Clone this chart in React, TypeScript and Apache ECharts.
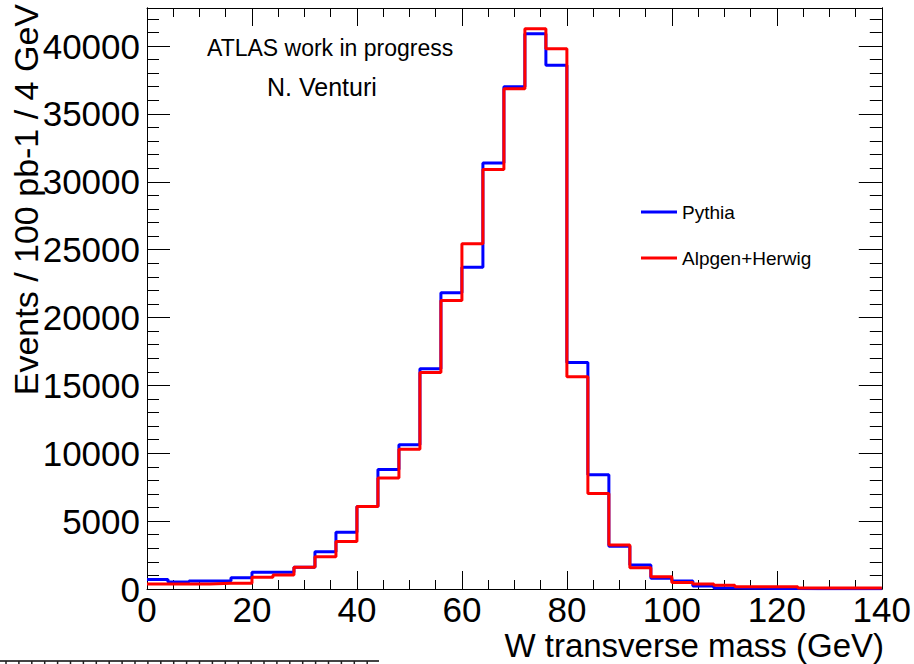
import React, { useEffect, useRef } from "react";
import * as echarts from "echarts";

// Histogram bin edges (GeV), 4 GeV bins from 0 to 140
const binEdges = [
  0, 4, 8, 12, 16, 20, 24, 28, 32, 36, 40, 44, 48, 52, 56, 60, 64, 68,
  72, 76, 80, 84, 88, 92, 96, 100, 104, 108, 112, 116, 120, 124, 128, 132, 136, 140,
];

// Events / 100 pb-1 / 4 GeV per bin
const pythia = [
  700, 520, 590, 590, 830, 1230, 1230, 1600, 2750, 4180, 6070, 8800, 10620, 16220,
  21830, 23700, 31390, 37000, 40900, 38590, 16690, 8410, 3150, 1770, 790, 590, 220,
  80, 60, 40, 30, 20, 20, 10, 10,
];
const alpgen = [
  370, 370, 370, 420, 420, 860, 1030, 1600, 2380, 3490, 6070, 8180, 10300, 15950,
  21260, 25440, 30900, 36850, 41270, 39800, 15630, 7030, 3250, 1560, 910, 470, 370,
  270, 170, 170, 170, 70, 70, 70, 70,
];

const seriesNames = ["Pythia", "Alpgen+Herwig"];
const seriesColors = ["#0000ff", "#ff0000"];

const xMin = 0;
const xMax = 140;
const xInterval = 20;
const yMin = 0;
const yMax = 42800;
const yMajor = 5000;
const yMinor = 1000;

const xTitle = "W transverse mass (GeV)";
const yTitle = "Events / 100 pb-1 / 4 GeV";
const notes = ["ATLAS work in progress", "N. Venturi"];

const FONT = "'Liberation Sans', Arial, Helvetica, sans-serif";

function toStep(values: number[]) {
  return binEdges.map((e, i) => [e, values[Math.min(i, values.length - 1)]]);
}

export default function App() {
  const ref = useRef<HTMLDivElement>(null);

  useEffect(() => {
    if (!ref.current) return;
    const chart = echarts.init(ref.current, undefined, { renderer: "svg" });

    const black = { color: "#000", width: 1 };

    const baseX = {
      type: "value" as const,
      min: xMin,
      max: xMax,
      interval: xInterval,
      splitLine: { show: false },
      axisLine: { show: true, onZero: false, lineStyle: black },
      axisTick: { show: true, inside: true, length: 18, lineStyle: black },
      minorTick: { show: true, splitNumber: 4, length: 9, lineStyle: black },
    };

    const baseY = (interval: number, len: number, position: "left" | "right", labels: boolean) => ({
      type: "value" as const,
      min: yMin,
      max: yMax,
      interval,
      position,
      splitLine: { show: false },
      axisLine: { show: true, onZero: false, lineStyle: black },
      axisTick: { show: true, inside: true, length: len, lineStyle: black },
      axisLabel: labels
        ? {
            show: true,
            fontSize: 35,
            fontFamily: FONT,
            color: "#000",
            margin: 7,
            formatter: (v: number) => (v % yMajor === 0 ? String(v) : ""),
          }
        : { show: false },
    });

    // decorative strip at the bottom-left of the reference image
    const stripTicks: any[] = [];
    for (let i = 0; i < 29; i++) {
      stripTicks.push({
        type: "line",
        shape: { x1: 6 + i * 12.9, y1: 661, x2: 6 + i * 12.9, y2: 664 },
        style: { stroke: "#222", lineWidth: 1.5 },
      });
    }

    chart.setOption({
      animation: false,
      backgroundColor: "#fff",
      grid: { left: 147, right: 30, top: 8, bottom: 75, containLabel: false },
      legend: {
        orient: "vertical",
        left: 636,
        top: 196,
        itemWidth: 36,
        itemHeight: 3,
        itemGap: 24,
        icon: "rect",
        data: seriesNames,
        textStyle: { fontSize: 19, fontFamily: FONT, color: "#000", lineHeight: 22 },
      },
      xAxis: [
        {
          ...baseX,
          position: "bottom",
          axisLabel: { show: true, fontSize: 35, fontFamily: FONT, color: "#000", margin: 3 },
        },
        { ...baseX, position: "top", axisLabel: { show: false } },
      ],
      yAxis: [
        baseY(yMajor, 23, "left", true),
        baseY(yMinor, 12, "left", false),
        baseY(yMajor, 23, "right", false),
        baseY(yMinor, 12, "right", false),
      ],
      series: [
        {
          name: seriesNames[0],
          type: "line",
          step: "end",
          symbol: "none",
          data: toStep(pythia),
          lineStyle: { width: 3, color: seriesColors[0] },
          itemStyle: { color: seriesColors[0] },
          z: 2,
        },
        {
          name: seriesNames[1],
          type: "line",
          step: "end",
          symbol: "none",
          data: toStep(alpgen),
          lineStyle: { width: 3, color: seriesColors[1] },
          itemStyle: { color: seriesColors[1] },
          z: 3,
        },
      ],
      graphic: [
        {
          type: "text",
          x: 207,
          y: 48,
          style: {
            text: notes[0],
            fontSize: 23,
            fontFamily: FONT,
            fill: "#000",
            align: "left",
            verticalAlign: "middle",
            textAlign: "left",
            textVerticalAlign: "middle",
          },
        },
        {
          type: "text",
          x: 267,
          y: 87,
          style: {
            text: notes[1],
            fontSize: 25,
            fontFamily: FONT,
            fill: "#000",
            align: "left",
            verticalAlign: "middle",
            textAlign: "left",
            textVerticalAlign: "middle",
          },
        },
        {
          type: "text",
          x: 884,
          y: 645,
          style: {
            text: xTitle,
            fontSize: 33,
            fontFamily: FONT,
            fill: "#000",
            align: "right",
            verticalAlign: "middle",
            textAlign: "right",
            textVerticalAlign: "middle",
          },
        },
        {
          type: "text",
          x: 26,
          y: 4,
          rotation: Math.PI / 2,
          style: {
            text: yTitle,
            fontSize: 34,
            fontFamily: FONT,
            fill: "#000",
            align: "right",
            verticalAlign: "middle",
            textAlign: "right",
            textVerticalAlign: "middle",
          },
        },
        {
          type: "group",
          children: [
            {
              type: "line",
              shape: { x1: 0, y1: 661, x2: 379, y2: 661 },
              style: { stroke: "#444", lineWidth: 2 },
            },
            ...stripTicks,
          ],
        },
      ],
    });

    return () => chart.dispose();
  }, []);

  return (
    <div
      ref={ref}
      style={{ position: "fixed", left: 0, top: 0, width: 914, height: 664, background: "#fff" }}
    />
  );
}
